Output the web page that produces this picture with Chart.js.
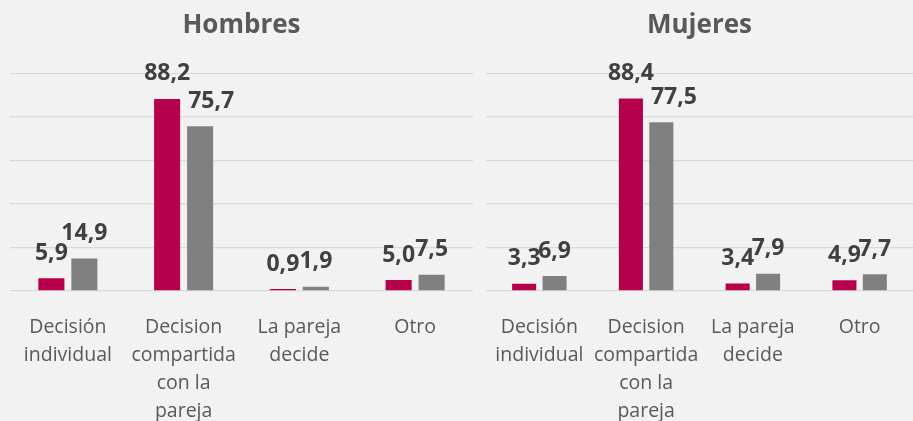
<!DOCTYPE html>
<html>
<head>
<meta charset="utf-8">
<script src="https://cdn.jsdelivr.net/npm/chart.js@4.4.1/dist/chart.umd.min.js"></script>
<style>
  html, body { margin: 0; padding: 0; background: #F2F2F2; }
  .wrap { position: absolute; top: 0; height: 421px; }
  #left { left: 0; width: 480px; }
  #right { left: 480px; width: 433px; }
</style>
</head>
<body>
<div class="wrap" id="left"><canvas id="hombresChart"></canvas></div>
<div class="wrap" id="right"><canvas id="mujeresChart"></canvas></div>
<script>
const categories = [
  ["Decisión", "individual"],
  ["Decision", "compartida", "con la", "pareja"],
  ["La pareja", "decide"],
  ["Otro"]
];
const hombresA = [5.9, 88.2, 0.9, 5.0];
const hombresB = [14.9, 75.7, 1.9, 7.5];
const mujeresA = [3.3, 88.4, 3.4, 4.9];
const mujeresB = [6.9, 77.5, 7.9, 7.7];
const yTicks = [0, 20, 40, 60, 80, 100];

const RED = "#B7004B";
const GRAY = "#808080";
const FONT = "'Open Sans', 'Noto Sans', sans-serif";

// draws the value above every bar, with a comma as decimal mark
// a grey label that would run into the taller red bar next to it is pushed right
const barLabels = {
  id: "barLabels",
  afterDatasetsDraw(chart) {
    const ctx = chart.ctx;
    ctx.save();
    ctx.font = "bold 23px " + FONT;
    ctx.fillStyle = "#404040";
    ctx.textAlign = "center";
    ctx.textBaseline = "middle";
    chart.data.datasets.forEach((ds, i) => {
      chart.getDatasetMeta(i).data.forEach((bar, j) => {
        const txt = ds.data[j].toFixed(1).replace(".", ",");
        const w = ctx.measureText(txt).width;
        let x = bar.x;
        const y = bar.y - 25;
        if (i === 1) {
          const prev = chart.getDatasetMeta(0).data[j];
          const prevRight = prev.x + prev.width / 2;
          if (prev.y < y + 12 && x - w / 2 < prevRight + 8) x = prevRight + 8 + w / 2;
        }
        ctx.fillText(txt, x, y);
      });
    });
    ctx.restore();
  }
};

function makeChart(id, title, dataA, dataB, pad) {
  return new Chart(document.getElementById(id), {
    type: "bar",
    data: {
      labels: categories,
      datasets: [
        { data: dataA, backgroundColor: RED, categoryPercentage: 0.57, barPercentage: 0.79 },
        { data: dataB, backgroundColor: GRAY, categoryPercentage: 0.57, barPercentage: 0.79 }
      ]
    },
    options: {
      responsive: true,
      maintainAspectRatio: false,
      animation: false,
      layout: { padding: pad },
      plugins: {
        legend: { display: false },
        tooltip: { enabled: false },
        title: {
          display: true,
          text: title,
          color: "#595959",
          font: { family: FONT, size: 26, weight: "bold" },
          padding: { top: 10, bottom: 32 }
        }
      },
      scales: {
        x: {
          grid: { display: false },
          border: { display: false },
          ticks: {
            color: "#595959",
            font: { family: FONT, size: 19.5, lineHeight: 1.436 },
            padding: 14,
            maxRotation: 0,
            autoSkip: false
          },
          afterFit: scale => { scale.height = 130; }
        },
        y: {
          min: yTicks[0],
          max: yTicks[yTicks.length - 1],
          afterBuildTicks: scale => { scale.ticks = yTicks.map(v => ({ value: v })); },
          grid: { color: "#D9D9D9", lineWidth: 1.3, drawTicks: false },
          border: { display: false },
          ticks: { display: false }
        }
      }
    },
    plugins: [barLabels]
  });
}

makeChart("hombresChart", "Hombres", hombresA, hombresB, { left: 10, right: 7, top: 0, bottom: 0 });
makeChart("mujeresChart", "Mujeres", mujeresA, mujeresB, { left: 6, right: 0, top: 0, bottom: 0 });
</script>
</body>
</html>
